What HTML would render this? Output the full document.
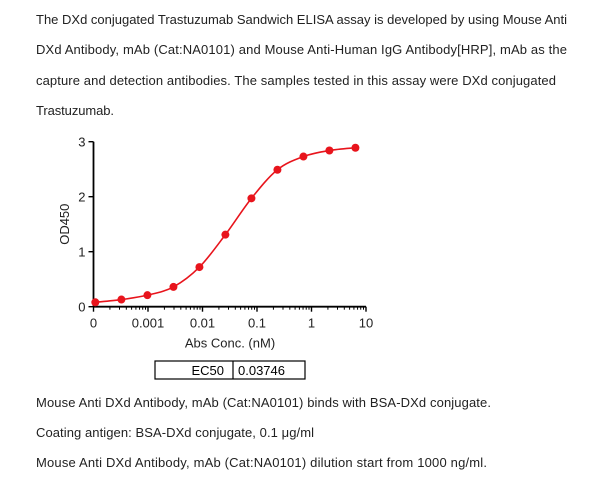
<!DOCTYPE html>
<html><head><meta charset="utf-8"><style>
html,body{margin:0;padding:0;background:#fff;}
svg{display:block;font-family:"Liberation Sans",sans-serif;}
</style></head><body>
<svg id="chart" width="600" height="486" viewBox="0 0 600 486">
<g fill="#222" font-size="13">
<text x="36" y="24" textLength="531" lengthAdjust="spacing">The DXd conjugated Trastuzumab Sandwich ELISA assay is developed by using Mouse Anti</text>
<text x="36" y="54" textLength="531" lengthAdjust="spacing">DXd Antibody, mAb (Cat:NA0101) and Mouse Anti-Human IgG Antibody[HRP], mAb as the</text>
<text x="36" y="85" textLength="520" lengthAdjust="spacing">capture and detection antibodies. The samples tested in this assay were DXd conjugated</text>
<text x="36" y="115" textLength="78" lengthAdjust="spacing">Trastuzumab.</text>
<text x="36" y="407" textLength="455" lengthAdjust="spacing">Mouse Anti DXd Antibody, mAb (Cat:NA0101) binds with BSA-DXd conjugate.</text>
<text x="36" y="437" textLength="278" lengthAdjust="spacing">Coating antigen: BSA-DXd conjugate, 0.1 μg/ml</text>
<text x="36" y="467" textLength="451" lengthAdjust="spacing">Mouse Anti DXd Antibody, mAb (Cat:NA0101) dilution start from 1000 ng/ml.</text>
</g>
<g id="plot"></g>
<g>
<rect x="155" y="361" width="150" height="18" fill="none" stroke="#000" stroke-width="1.2"/>
<line x1="233" y1="361" x2="233" y2="379" stroke="#000" stroke-width="1.2"/>
<text x="224" y="375" text-anchor="end" font-size="13">EC50</text>
<text x="238" y="375" font-size="13">0.03746</text>
</g>
</svg>
<script>
const concentrations=[0.000108,0.000325,0.000975,0.00293,0.00878,0.0263,0.079,0.237,0.711,2.13,6.4];
const od450=[0.08,0.13,0.21,0.36,0.72,1.31,1.97,2.49,2.73,2.84,2.89];
const xTickValues=[0.0001,0.001,0.01,0.1,1,10];
const xTickLabels=["0","0.001","0.01","0.1","1","10"];
const yTickValues=[0,1,2,3];
const NS="http://www.w3.org/2000/svg";
const g=document.getElementById('plot');
const X0=93.5,DEC=54.5,Y0=306.7,YS=55;
function xs(v){return X0+(Math.log10(v)+4)*DEC;}
function ys(v){return Y0-v*YS;}
function mk(t,a,p){const e=document.createElementNS(NS,t);for(const k in a)e.setAttribute(k,a[k]);(p||g).appendChild(e);return e;}
const xa=mk('line',{x1:X0,y1:Y0,x2:xs(10),y2:Y0,stroke:'#000','stroke-width':1.8});


const ya=mk('line',{x1:X0,y1:Y0,x2:X0,y2:ys(3),stroke:'#000','stroke-width':1.8});


xTickValues.forEach((v,i)=>{
  const x=xs(v);
  mk('line',{x1:x,y1:Y0,x2:x,y2:Y0+5,stroke:'#000','stroke-width':1.4});
  if(i<xTickValues.length-1){for(let m=2;m<10;m++){const mx=xs(v*m);mk('line',{x1:mx,y1:Y0,x2:mx,y2:Y0+3,stroke:'#000','stroke-width':1});}}
  const t=mk('text',{x:x,y:Y0+21,'text-anchor':'middle','font-size':13,fill:'#222'});
  t.textContent=xTickLabels[i];
  
  
});
yTickValues.forEach(v=>{
  const y=ys(v);
  mk('line',{x1:X0-5,y1:y,x2:X0,y2:y,stroke:'#000','stroke-width':1.4});
  const t=mk('text',{x:X0-8,y:y+5,'text-anchor':'end','font-size':13,fill:'#222'});
  t.textContent=String(v);
  
  
});
const xt=mk('text',{x:xs(0.1)-27,y:Y0+41,'text-anchor':'middle','font-size':13,fill:'#222'});
xt.textContent='Abs Conc. (nM)';


const yt=mk('text',{x:0,y:0,'text-anchor':'middle','font-size':13,fill:'#222',transform:'translate(69,'+ys(1.5)+') rotate(-90)'});
yt.textContent='OD450';


const pts=concentrations.map((c,i)=>[xs(c),ys(od450[i])]);
let d='M'+pts[0][0]+','+pts[0][1];
for(let i=0;i<pts.length-1;i++){
  const p0=pts[Math.max(0,i-1)],p1=pts[i],p2=pts[i+1],p3=pts[Math.min(pts.length-1,i+2)];
  d+=' C'+(p1[0]+(p2[0]-p0[0])/6)+','+(p1[1]+(p2[1]-p0[1])/6)+' '+(p2[0]-(p3[0]-p1[0])/6)+','+(p2[1]-(p3[1]-p1[1])/6)+' '+p2[0]+','+p2[1];
}
const curve=mk('path',{d:d,fill:'none',stroke:'#e8141c','stroke-width':1.6});


pts.forEach(p=>{
  const c=mk('circle',{cx:p[0],cy:p[1],r:4,fill:'#e8141c'});
  
  
});
</script>
</body></html>
